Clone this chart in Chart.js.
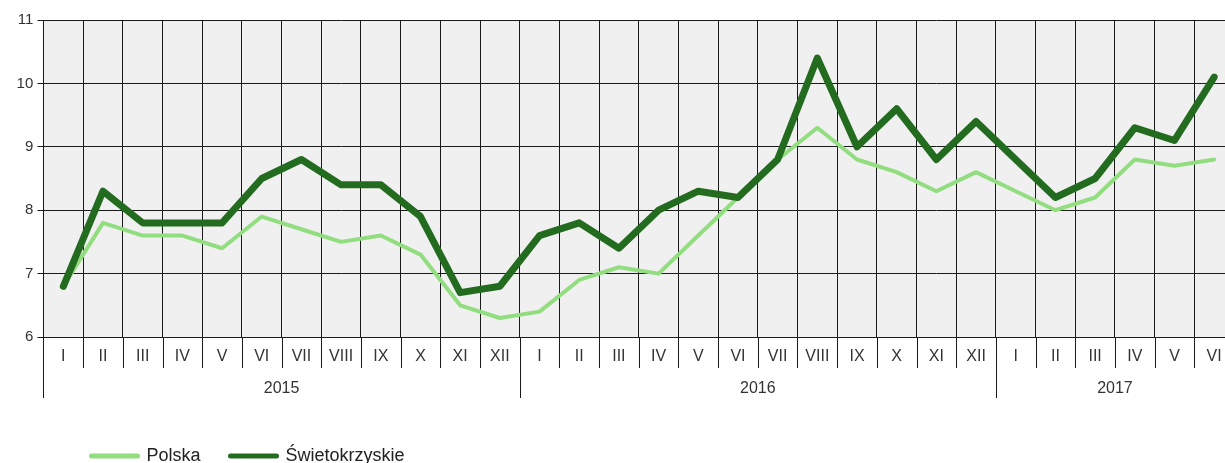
<!DOCTYPE html>
<html><head><meta charset="utf-8">
<script src="https://cdn.jsdelivr.net/npm/chart.js@4.4.1/dist/chart.umd.min.js"></script>
<style>
html,body{margin:0;padding:0;overflow:hidden;background:#fff}
#wrap{position:relative;width:1234px;height:463px}
</style></head>
<body><div id="wrap"><canvas id="c"></canvas></div>
<script>
const months = ['I','II','III','IV','V','VI','VII','VIII','IX','X','XI','XII',
                'I','II','III','IV','V','VI','VII','VIII','IX','X','XI','XII',
                'I','II','III','IV','V','VI'];
const years = ['2015','2016','2017'];
const monthsPerYear = [12,12,6];
const polska = [6.8,7.8,7.6,7.6,7.4,7.9,7.7,7.5,7.6,7.3,6.5,6.3,
                6.4,6.9,7.1,7.0,7.6,8.2,8.8,9.3,8.8,8.6,8.3,8.6,
                8.3,8.0,8.2,8.8,8.7,8.8];
const swietokrzyskie = [6.8,8.3,7.8,7.8,7.8,8.5,8.8,8.4,8.4,7.9,6.7,6.8,
                        7.6,7.8,7.4,8.0,8.3,8.2,8.8,10.4,9.0,9.6,8.8,9.4,
                        8.8,8.2,8.5,9.3,9.1,10.1];
const yMin = 6, yMax = 11, yStep = 1;

const FONT = "'Liberation Sans', Arial, sans-serif";
const yearBounds = [0];
monthsPerYear.forEach(n => yearBounds.push(yearBounds[yearBounds.length - 1] + n));
const yearCenters = years.map((y, i) => (yearBounds[i] + yearBounds[i + 1]) / 2);

const bgPlugin = {
  id: 'bg',
  beforeDraw(chart) {
    const {ctx, chartArea: a} = chart;
    ctx.save();
    ctx.fillStyle = '#f0f0f0';
    ctx.fillRect(a.left, a.top, a.right - a.left, a.bottom - a.top);
    ctx.restore();
  }
};
// month / year separator marks below the plot, placed with the category scale
const sepPlugin = {
  id: 'seps',
  afterDraw(chart) {
    const {ctx, chartArea: a, scales: {x}} = chart;
    ctx.save();
    ctx.strokeStyle = '#1a1a1a';
    ctx.lineWidth = 1;
    for (let i = 0; i <= months.length; i++) {
      const px = Math.round(x.getPixelForValue(i - 0.5)) + 0.5;
      const len = yearBounds.includes(i) ? 61 : 31;
      ctx.beginPath();
      ctx.moveTo(px, a.bottom);
      ctx.lineTo(px, a.bottom + len);
      ctx.stroke();
    }
    ctx.restore();
  }
};
const legendPlace = {
  id: 'legendPlace',
  afterLayout(chart) {
    const lg = chart.legend;
    if (!lg) return;
    const w = lg.right - lg.left, h = lg.bottom - lg.top;
    lg.left = 61.5; lg.right = lg.left + w;
    lg.top = 417; lg.bottom = lg.top + h;
  }
};

new Chart(document.getElementById('c'), {
  type: 'line',
  data: {
    labels: months,
    datasets: [
      {label: 'Polska', data: polska, borderColor: '#92dd80', backgroundColor: '#92dd80',
       borderWidth: 4, pointRadius: 0, borderCapStyle: 'round', borderJoinStyle: 'round', order: 2},
      {label: 'Świetokrzyskie', data: swietokrzyskie, borderColor: '#236b1f', backgroundColor: '#236b1f',
       borderWidth: 7, pointRadius: 0, borderCapStyle: 'round', borderJoinStyle: 'round', order: 1}
    ]
  },
  plugins: [bgPlugin, sepPlugin, legendPlace],
  options: {
    responsive: true, maintainAspectRatio: false, animation: false,
    layout: {padding: {top: 20, left: 12.4, right: 0, bottom: 2.6}},
    plugins: {
      tooltip: {enabled: false},
      legend: {
        position: 'bottom', align: 'start',
        labels: {
          usePointStyle: true, pointStyle: 'line', pointStyleWidth: 46, padding: 30,
          color: '#222', font: {family: FONT, size: 18},
          sort: (a, b) => a.datasetIndex - b.datasetIndex,
          generateLabels(chart) {
            return Chart.defaults.plugins.legend.labels.generateLabels(chart).map(it => {
              it.lineWidth = 5; it.lineCap = 'round'; it.pointStyle = 'line'; return it;
            });
          }
        }
      }
    },
    scales: {
      x: {
        type: 'category', position: 'bottom', offset: true,
        grid: {offset: true, color: '#1a1a1a', lineWidth: 1, drawTicks: false},
        border: {color: '#1a1a1a'},
        ticks: {color: '#333', font: {family: FONT, size: 16}, padding: 9.6, maxRotation: 0, autoSkip: false}
      },
      x2: {
        type: 'linear', position: 'bottom', min: 0, max: months.length, weight: 1,
        afterBuildTicks(axis) { axis.ticks = yearCenters.map(v => ({value: v})); },
        grid: {display: false, drawOnChartArea: false, drawTicks: false},
        border: {display: false},
        ticks: {color: '#333', font: {family: FONT, size: 16}, padding: 3.9, maxRotation: 0, autoSkip: false,
                callback: v => { const i = yearCenters.indexOf(v); return i >= 0 ? years[i] : ''; }}
      },
      y: {
        min: yMin, max: yMax,
        grid: {color: '#1a1a1a', lineWidth: 1, tickLength: 6},
        border: {color: '#1a1a1a'},
        ticks: {stepSize: yStep, color: '#333', font: {family: FONT, size: 15}, padding: 4.2}
      }
    }
  }
});
</script>
</body></html>
